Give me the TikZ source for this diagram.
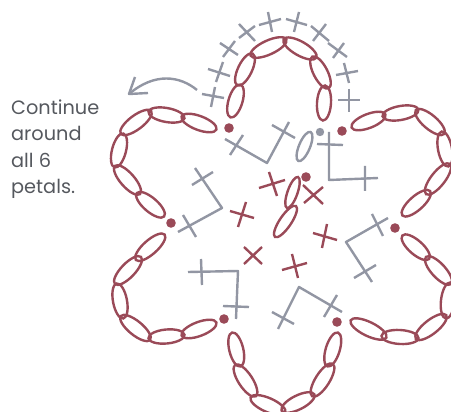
\documentclass[tikz,border=0pt]{standalone}
\usepackage{fontspec}
\setmainfont{Poppins}
\usetikzlibrary{calc,arrows.meta}
\definecolor{chred}{HTML}{9A4A58}
\definecolor{chgray}{HTML}{9296A3}
\definecolor{chtext}{HTML}{55585E}
\tikzset{
  redst/.style={draw=chred,line width=2.4pt},
  grayst/.style={draw=chgray,line width=2.4pt,line join=round},
  dotred/.style={fill=chred,draw=none},
  dotgray/.style={fill=chgray,draw=none},
}
\newcommand{\ovExt}{1.5}
% ellipse between two end points: style, minor radius, x1,y1,x2,y2
\newcommand{\ovl}[6]{%
  \pgfmathsetmacro\ovA{veclen(#5-#3,#6-#4)/2+\ovExt}%
  \pgfmathsetmacro\ovB{atan2(#4-#6,#5-#3)}%
  \pgfmathsetmacro\ovX{(#3+#5)/2}%
  \pgfmathsetmacro\ovY{(#4+#6)/2}%
  \draw[#1,shift={(\ovX,\ovY)},rotate=\ovB] (0,0) ellipse (\ovA pt and #2pt);}
\newcommand{\rv}[4]{\ovl{redst}{7}{#1}{#2}{#3}{#4}}
\newcommand{\xx}[9]{\draw[#1] (#2,#3)--(#4,#5) (#6,#7)--(#8,#9);}
\begin{document}
\begin{tikzpicture}[x=1pt,y=-1pt]
\useasboundingbox (0,0) rectangle (451,412);
\clip (0,0) rectangle (451,412);
% text
\node[anchor=north west,inner sep=0pt,align=left,font=\fontsize{19.3}{26.5}\selectfont,text=chtext] (note) at (11,99.5) {Continue\\around\\all 6\\petals.};
% arrow
\coordinate (arrA) at (197,90);
\coordinate (arrB) at (129,94);
\coordinate (arrC) at (135,77);
\coordinate (arrD) at (148,93);
\draw[grayst] (arrA) .. controls (180,76) and (155,72) .. (arrB);
\draw[grayst] (arrC) -- (arrB) -- (arrD);
% top petal
\rv{231}{116}{240}{86}\rv{238}{84}{252}{55}\rv{252}{55}{285}{40}\rv{285}{40}{315}{57}\rv{313}{58}{328}{87}\rv{325}{87}{323}{119}
% left
\rv{215}{129}{183}{117}\rv{183}{118}{150}{112}\rv{150}{112}{122}{133}\rv{123}{135}{115}{166}\rv{116}{167}{139}{193}\rv{138}{194}{163}{215.5}
% lower left
\rv{163.5}{235.5}{137}{259}\rv{140}{258}{116}{283}\rv{117}{285}{123}{317}\rv{122}{317}{149}{339}\rv{150}{338}{183}{335}\rv{183}{335}{215}{323}
% bottom
\rv{232.5}{334}{240}{365}\rv{236}{366}{255}{395}\rv{252}{398}{284}{412}\rv{283}{410}{313}{395}\rv{313}{395}{332}{365}\rv{328}{365}{337.5}{334}
% lower right
\rv{352}{321}{385}{337}\rv{383}{336}{417}{338}\rv{417}{338}{445}{316}\rv{446}{317}{450}{284}\rv{450}{283}{427}{258}\rv{428}{258}{403.5}{236.5}
% upper right
\rv{353}{127}{384}{115}\rv{384}{116}{417}{110}\rv{417}{111}{443}{133}\rv{442}{133}{448}{165}\rv{449}{165}{427}{193}\rv{429}{192}{403.5}{214.5}
% dots
\foreach \p in {(229,128),(342,131),(306,177),(171,223),(395,228),(224,319),(337,322)} \fill[dotred] \p circle (4.8pt);
\fill[dotgray] (320,132) circle (4.2pt);
% centre ovals
\renewcommand{\ovExt}{-1}
\ovl{grayst}{5.5}{298}{162}{311}{131}
\renewcommand{\ovExt}{0}
\ovl{redst}{5}{298}{177}{287}{208}
\ovl{redst}{5.8}{296}{206}{275}{237}
% red crosses
\xx{redst}{259}{188}{285}{180}{269}{172}{277}{196}
\xx{redst}{303}{185}{323}{204}{323}{187}{304}{203}
\xx{redst}{230}{211}{254}{218}{246}{202}{238}{227}
\xx{redst}{313}{233}{337}{240}{327}{224}{322}{248}
\xx{redst}{244}{247}{262}{264}{262}{247}{244}{264}
\xx{redst}{282}{270}{307}{263}{292}{254}{298}{278}
% gray corners
\draw[grayst] (225,139)--(267,163)--(289,122);
\xx{grayst}{243}{135}{230}{155}{272}{125}{295}{138}
\draw[grayst] (329,132)--(329,180)--(378,178);
\xx{grayst}{317}{144}{343}{145}{365}{166}{365}{191}
\draw[grayst] (195,168)--(222,208)--(178,232);
\xx{grayst}{192}{185}{213}{172}{183}{215}{196}{237}
\draw[grayst] (388,218)--(346,242)--(372,282);
\xx{grayst}{372}{214}{383}{236}{354}{278}{376}{265}
\draw[grayst] (188,272)--(238,271)--(236,319);
\xx{grayst}{201}{259}{202}{285}{223}{306}{249}{307}
\draw[grayst] (278,329)--(299,287)--(342,312);
\xx{grayst}{272}{312}{294}{324}{337}{295}{324}{317}
% top gray crosses
\xx{grayst}{202}{94}{224}{98}{215}{87}{211}{107}
\xx{grayst}{208}{69}{230}{76}{223}{62}{216}{82}
\xx{grayst}{220}{43}{238}{55}{235}{41}{223}{57}
\xx{grayst}{239}{24}{255}{41}{255}{26}{239}{38}
\xx{grayst}{259}{25}{281}{19}{268}{12}{272}{32}
\xx{grayst}{286}{19}{307}{25}{299}{12}{294}{32}
\xx{grayst}{311}{26}{329}{41}{326}{24}{313}{41}
\xx{grayst}{328}{43}{347}{57}{344}{43}{333}{58}
\xx{grayst}{336}{75}{358}{71}{344}{63}{349}{83}
\xx{grayst}{338}{100}{360}{100}{349}{89}{349}{112}
\end{tikzpicture}
\end{document}
